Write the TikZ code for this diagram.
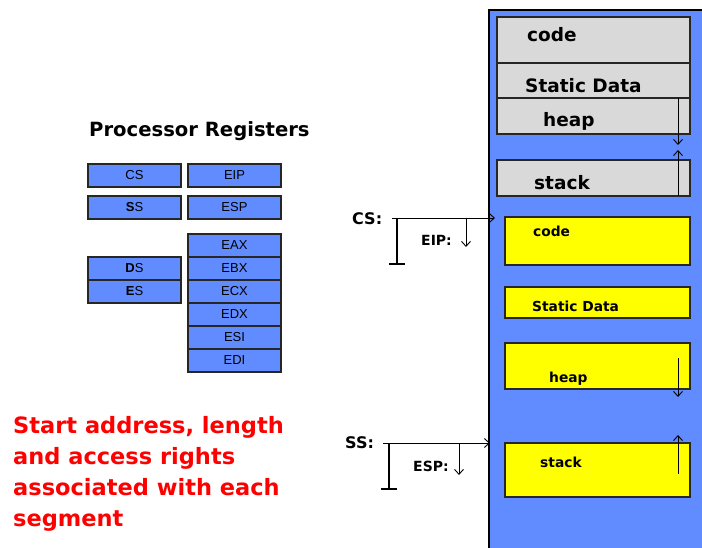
\documentclass[tikz,border=0pt]{standalone}
\usepackage{fontspec}
\setmainfont{DejaVu Sans}
\newfontfamily\regfont{Liberation Sans}
\usetikzlibrary{arrows.meta}
\definecolor{memblue}{RGB}{96,140,255}
\definecolor{seggray}{RGB}{217,217,217}
\definecolor{segyellow}{RGB}{255,255,0}
\definecolor{labred}{RGB}{255,0,0}
\tikzset{
  regbox/.style={draw=black!85, line width=1.2pt, fill=memblue, inner sep=0pt, outer sep=0pt,
    minimum width=93pt, minimum height=23pt, font=\regfont\fontsize{13}{13}\selectfont},
  graybox/.style={draw=black!85, line width=1.2pt, fill=seggray, inner sep=0pt, outer sep=0pt, anchor=north west},
  yelbox/.style={draw=black!85, line width=1.2pt, fill=segyellow, inner sep=0pt, outer sep=0pt, anchor=north west},
  biglab/.style={font=\bfseries\fontsize{18.5}{18.5}\selectfont, anchor=base west, inner sep=0pt},
  smalllab/.style={font=\bfseries\fontsize{13.8}{13.8}\selectfont, anchor=base west, inner sep=0pt},
  ptrlab/.style={font=\bfseries\fontsize{16}{16}\selectfont, anchor=base west, inner sep=0pt},
  offlab/.style={font=\bfseries\fontsize{14}{14}\selectfont, anchor=base west, inner sep=0pt},
  arr/.style={line width=0.9pt, -{Straight Barb[length=5pt,width=9pt]}},
  plain/.style={line width=1.4pt},
}
\begin{document}
\begin{tikzpicture}[x=1pt,y=-1pt]
\useasboundingbox (0,0) rectangle (702,548);

% memory column
\fill[memblue] (489,10) rectangle (702,548);
\draw[line width=1.2pt] (489,548) -- (489,10) -- (702,10);

% virtual layout (gray)
\node[graybox, minimum width=193pt, minimum height=46pt] (gcode) at (497,17) {};
\node[graybox, minimum width=193pt, minimum height=35pt] (gdata) at (497,63) {};
\node[graybox, minimum width=193pt, minimum height=36pt] (gheap) at (497,98) {};
\node[graybox, minimum width=193pt, minimum height=36pt] (gstack) at (497,160) {};
\node[biglab] (tgcode) at (527,42) {code};
\node[biglab] (tgdata) at (525,93) {Static Data};
\node[biglab] (tgheap) at (543,127) {heap};
\node[biglab] (tgstack) at (534,190) {stack};
\coordinate (gheapend) at (678,145);
\coordinate (gstackend) at (678,150);
\draw[arr] (gheap.north -| gheapend) -- (gheapend);
\draw[arr] (gstack.south -| gstackend) -- (gstackend);

% physical segments (yellow)
\node[yelbox, minimum width=185pt, minimum height=48pt] (ycode) at (505,217) {};
\node[yelbox, minimum width=185pt, minimum height=31pt] (ydata) at (505,287) {};
\node[yelbox, minimum width=185pt, minimum height=46pt] (yheap) at (505,343) {};
\node[yelbox, minimum width=185pt, minimum height=54pt] (ystack) at (505,443) {};
\node[smalllab] (tycode) at (533,237) {code};
\node[smalllab] (tydata) at (532,312) {Static Data};
\node[smalllab] (tyheap) at (549,382) {heap};
\node[smalllab] (tystack) at (540,467) {stack};
\coordinate (yheaptop) at (678,358);
\coordinate (yheapend) at (678,397);
\coordinate (ystackbot) at (678,474);
\coordinate (ystackend) at (678,435);
\draw[arr] (yheaptop) -- (yheapend);
\draw[arr] (ystackbot) -- (ystackend);

% CS : EIP
\node[ptrlab] (cslab) at (352,225) {CS:};
\coordinate (csstart) at (392,218);
\coordinate (csend) at (495,218);
\draw[arr] (csstart) -- (csend);
\coordinate (cstop) at (397,218);
\coordinate (csbot) at (397,264);
\draw[plain] (cstop) -- (csbot);
\draw[plain] ([xshift=-8pt]csbot) -- ([xshift=8pt]csbot);
\node[offlab] (eiplab) at (421,246) {EIP:};
\coordinate (eiptop) at (466,218);
\coordinate (eipend) at (466,247);
\draw[arr] (eiptop) -- (eipend);

% SS : ESP
\node[ptrlab] (sslab) at (345,448) {SS:};
\coordinate (ssstart) at (383,443);
\coordinate (ssend) at (490,443);
\draw[arr] (ssstart) -- (ssend);
\coordinate (sstop) at (389,443);
\coordinate (ssbot) at (389,489);
\draw[plain] (sstop) -- (ssbot);
\draw[plain] ([xshift=-8pt]ssbot) -- ([xshift=8pt]ssbot);
\node[offlab] (esplab) at (413,471) {ESP:};
\coordinate (esptop) at (459,443);
\coordinate (espend) at (459,475);
\draw[arr] (esptop) -- (espend);

% register file
\node[font=\bfseries\fontsize{19.6}{19.6}\selectfont, anchor=base west, inner sep=0pt] (title) at (89,137) {Processor Registers};
\node[regbox, anchor=north west] (cs) at (88,164) {CS};
\node[regbox, anchor=north west] (eip) at (188,164) {EIP};
\node[regbox, anchor=north west] (ss) at (88,196) {\textbf{S}S};
\node[regbox, anchor=north west] (esp) at (188,196) {ESP};
\node[regbox, anchor=north west] (eax) at (188,234) {EAX};
\node[regbox, anchor=north] (ebx) at (eax.south) {EBX};
\node[regbox, anchor=north] (ecx) at (ebx.south) {ECX};
\node[regbox, anchor=north] (edx) at (ecx.south) {EDX};
\node[regbox, anchor=north] (esi) at (edx.south) {ESI};
\node[regbox, anchor=north] (edi) at (esi.south) {EDI};
\node[regbox, anchor=north west] (ds) at (88,257) {\textbf{D}S};
\node[regbox, anchor=north] (es) at (ds.south) {\textbf{E}S};

% note
\node[font=\bfseries\fontsize{22.5}{31}\selectfont, text=labred, anchor=north west, inner sep=0pt, align=left] (note) at (13,416)
  {Start address, length\\and access rights\\associated with each\\segment};
\end{tikzpicture}
\end{document}
